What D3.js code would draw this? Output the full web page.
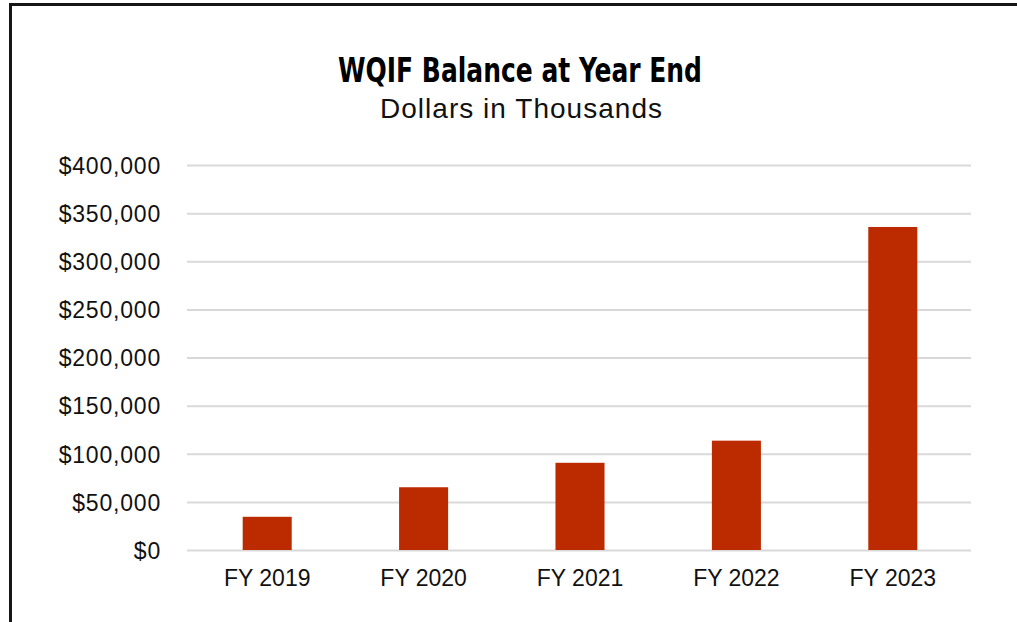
<!DOCTYPE html>
<html>
<head>
<meta charset="utf-8">
<script src="https://cdn.jsdelivr.net/npm/d3@7"></script>
<style>
  body { margin: 0; background: #fff; }
  svg { display: block; }
</style>
</head>
<body>
<div id="chart"></div>
<script>
// values in thousands of dollars
const years = ["FY 2019", "FY 2020", "FY 2021", "FY 2022", "FY 2023"]
const balances = [34500, 65200, 90600, 113600, 335600]
const yTicks = [0, 50000, 100000, 150000, 200000, 250000, 300000, 350000, 400000]

const width = 1017
const height = 622
const margin = { top: 165, right: 46, bottom: 72, left: 187 }

const svg = d3.select("#chart")
    .append("svg")
    .attr("width", width)
    .attr("height", height)

// frame (only top and left edges are visible in the crop)
svg.append("path")
    .attr("d", `M10.5,${height} V4.5 H${width}`)
    .attr("fill", "none")
    .attr("stroke", "#161616")
    .attr("stroke-width", 3)

const x = d3.scaleBand()
    .domain(years)
    .range([margin.left + 2, width - margin.right])
    .paddingInner(0.6865)
    .paddingOuter(0.34325)

const y = d3.scaleLinear()
    .domain([0, 400000])
    .range([height - margin.bottom, margin.top])

// gridlines + y labels
const yAxis = svg.append("g")
    .attr("transform", `translate(${margin.left},0)`)
    .call(d3.axisLeft(y)
        .tickValues(yTicks)
        .tickSize(-(width - margin.left - margin.right))
        .tickPadding(26)
        .tickFormat(d => "$" + d3.format(",")(d)))

yAxis.select(".domain").remove()
yAxis.selectAll(".tick line")
    .attr("stroke", "#d9d9d9")
    .attr("stroke-width", 2)
yAxis.selectAll(".tick text")
    .attr("fill", "#111")
    .style("font-family", "'Liberation Sans', Arial, sans-serif")
    .style("font-size", "23px")
    .style("letter-spacing", "0.8px")
    .attr("dy", "0.36em")

// bars
svg.append("g")
    .selectAll("rect")
    .data(balances)
    .join("rect")
    .attr("x", (d, i) => x(years[i]))
    .attr("y", d => y(d))
    .attr("width", x.bandwidth())
    .attr("height", d => y(0) - y(d))
    .attr("fill", "#bc2a00")

// x labels
const xAxis = svg.append("g")
    .attr("transform", `translate(0,${height - margin.bottom})`)
    .call(d3.axisBottom(x).tickSize(0).tickPadding(20))

xAxis.select(".domain").remove()
xAxis.selectAll(".tick text")
    .attr("fill", "#111")
    .style("font-family", "'Liberation Sans', Arial, sans-serif")
    .style("font-size", "23px")

// titles
svg.append("text")
    .attr("x", 520)
    .attr("y", 82)
    .attr("text-anchor", "middle")
    .attr("textLength", 364)
    .attr("lengthAdjust", "spacingAndGlyphs")
    .style("font-family", "'DejaVu Sans', sans-serif")
    .style("font-stretch", "condensed")
    .style("font-weight", "bold")
    .style("font-size", "34px")
    .attr("fill", "#000")
    .text("WQIF Balance at Year End")

svg.append("text")
    .attr("x", 521)
    .attr("y", 118)
    .attr("text-anchor", "middle")
    .attr("textLength", 282)
    .attr("lengthAdjust", "spacing")
    .style("font-family", "'Liberation Sans', Arial, sans-serif")
    .style("font-size", "28px")
    .attr("fill", "#111")
    .text("Dollars in Thousands")
</script>
</body>
</html>
